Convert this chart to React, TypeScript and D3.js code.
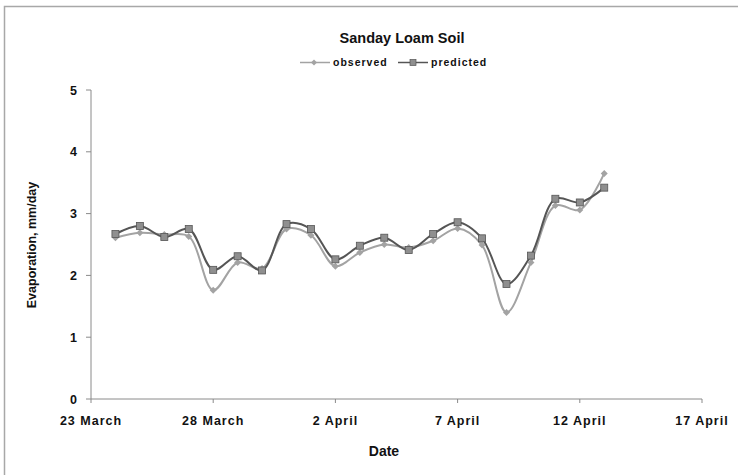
import React from "react";
import * as d3 from "d3";

const tickDays = [0, 5, 10, 15, 20, 25];
const tickLabels = ["23 March", "28 March", "2 April", "7 April", "12 April", "17 April"];
const days = [1, 2, 3, 4, 5, 6, 7, 8, 9, 10, 11, 12, 13, 14, 15, 16, 17, 18, 19, 20, 21];
const observed = [2.61, 2.69, 2.66, 2.63, 1.76, 2.21, 2.11, 2.75, 2.65, 2.15, 2.37, 2.5, 2.45, 2.56, 2.76, 2.49, 1.4, 2.21, 3.13, 3.06, 3.65];
const predicted = [2.67, 2.8, 2.62, 2.75, 2.09, 2.31, 2.08, 2.83, 2.75, 2.26, 2.48, 2.61, 2.41, 2.67, 2.86, 2.6, 1.86, 2.32, 3.24, 3.18, 3.42];
const yTicks = [0, 1, 2, 3, 4, 5];

const W = 738;
const H = 475;
const left = 91;
const right = 702;
const top = 90;
const bottom = 399;

export default function App() {
  const x = d3.scaleLinear().domain([0, 25]).range([left, right]);
  const y = d3.scaleLinear().domain([0, 5]).range([bottom, top]);
  const line = d3
    .line<number>()
    .x((_, i) => x(days[i]))
    .y((d) => y(d))
    .curve(d3.curveCatmullRom.alpha(0.5));

  const obsColor = "#a3a3a3";
  const predLine = "#555555";
  const predFill = "#8f8f8f";
  const axisColor = "#8a8a8a";
  const font = "'Liberation Sans', Arial, sans-serif";

  const diamond = (cx: number, cy: number, r: number) =>
    `M${cx},${cy - r}L${cx + r},${cy}L${cx},${cy + r}L${cx - r},${cy}Z`;

  return (
    <svg
      width={W}
      height={H}
      style={{ position: "absolute", left: 0, top: 0, background: "#fff" }}
      fontFamily={font}
    >
      <rect x={4.5} y={6.5} width={760} height={500} fill="none" stroke="#a8a8a8" strokeWidth={1.5} />

      {/* title */}
      <text x={402} y={43} textAnchor="middle" fontSize={14.5} fontWeight="bold" fill="#111">
        Sanday Loam Soil
      </text>

      {/* legend */}
      <g>
        <line x1={300} x2={330} y1={62.5} y2={62.5} stroke={obsColor} strokeWidth={1.5} />
        <path d={diamond(314, 62.5, 3)} fill={obsColor} />
        <text x={333} y={66} fontSize={10.5} fontWeight="bold" letterSpacing={1} fill="#111">
          observed
        </text>
        <line x1={398} x2={428} y1={62.5} y2={62.5} stroke={predLine} strokeWidth={1.5} />
        <rect x={410} y={59.5} width={6} height={6} fill={predFill} stroke={predLine} strokeWidth={0.7} />
        <text x={431} y={66} fontSize={10.5} fontWeight="bold" letterSpacing={1} fill="#111">
          predicted
        </text>
      </g>

      {/* axes */}
      <line x1={left} x2={left} y1={top} y2={bottom} stroke={axisColor} strokeWidth={1} />
      <line x1={left} x2={right} y1={bottom} y2={bottom} stroke={axisColor} strokeWidth={1} />
      {yTicks.map((t) => (
        <g key={"y" + t}>
          <line x1={left - 5} x2={left} y1={y(t)} y2={y(t)} stroke={axisColor} />
          <text x={77} y={y(t) + 4.5} textAnchor="end" fontSize={12.5} fontWeight="bold" fill="#111">
            {t}
          </text>
        </g>
      ))}
      {tickDays.map((t, i) => (
        <g key={"x" + t}>
          <line x1={x(t)} x2={x(t)} y1={bottom} y2={bottom + 4} stroke={axisColor} />
          <text x={x(t)} y={425} textAnchor="middle" fontSize={12.5} fontWeight="bold" letterSpacing={1} fill="#111">
            {tickLabels[i]}
          </text>
        </g>
      ))}

      <text x={384} y={456} textAnchor="middle" fontSize={14} fontWeight="bold" fill="#111">
        Date
      </text>
      <text
        transform={`translate(36,245) rotate(-90)`}
        textAnchor="middle"
        fontSize={12.5}
        fontWeight="bold"
        fill="#111"
      >
        Evaporation, mm/day
      </text>

      {/* series */}
      <path d={line(observed) || ""} fill="none" stroke={obsColor} strokeWidth={2} />
      <path d={line(predicted) || ""} fill="none" stroke={predLine} strokeWidth={2} />
      {observed.map((v, i) => (
        <path key={"o" + i} d={diamond(x(days[i]), y(v), 3.5)} fill={obsColor} />
      ))}
      {predicted.map((v, i) => (
        <rect
          key={"p" + i}
          x={x(days[i]) - 3.5}
          y={y(v) - 3.5}
          width={7}
          height={7}
          fill={predFill}
          stroke={predLine}
          strokeWidth={0.8}
        />
      ))}
    </svg>
  );
}
